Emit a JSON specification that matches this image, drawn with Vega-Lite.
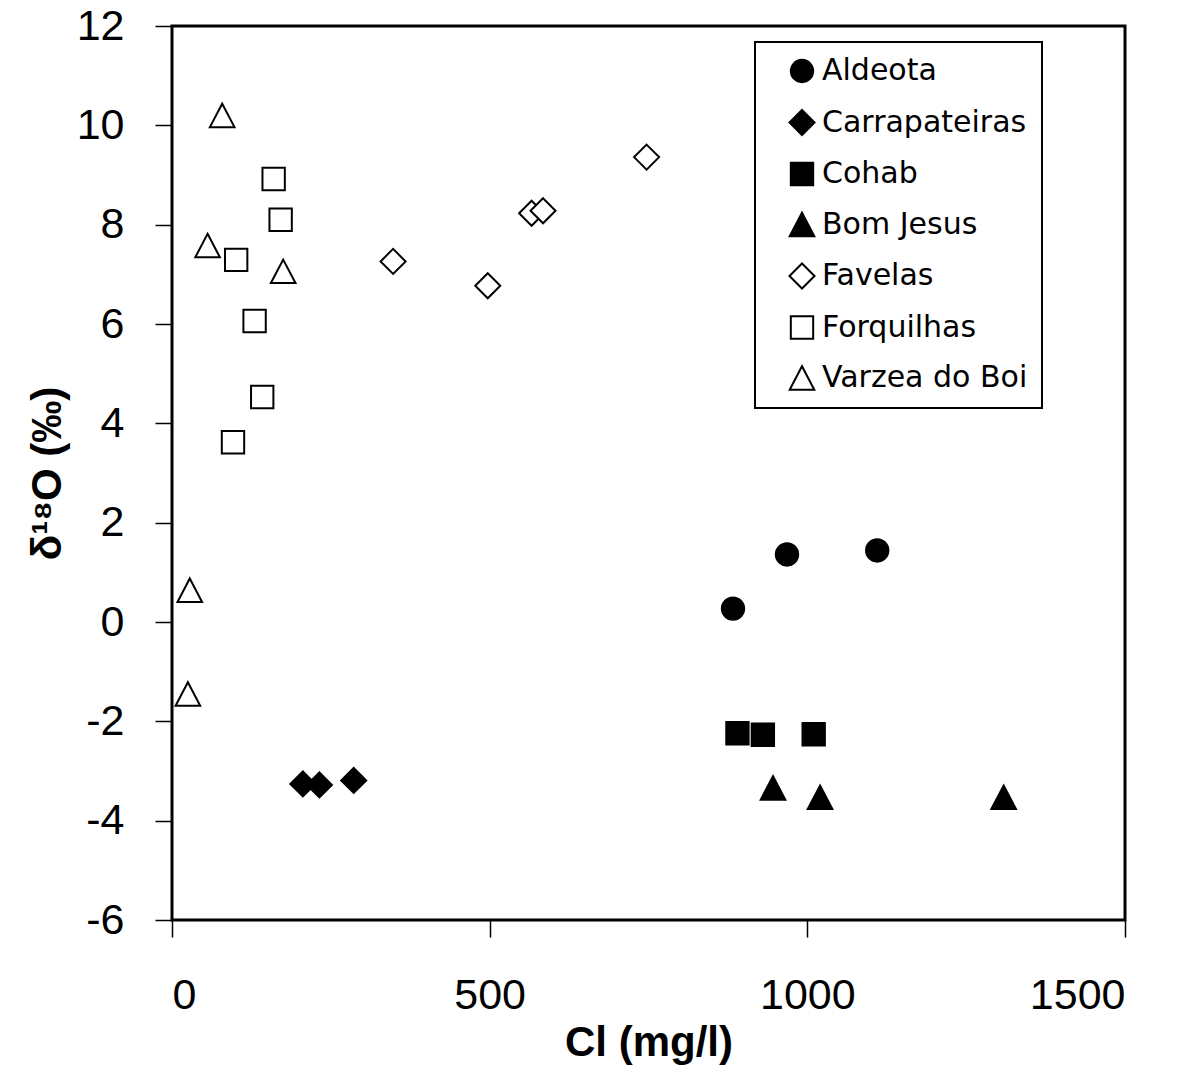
{
  "$schema": "https://vega.github.io/schema/vega-lite/v6.json",
  "autosize": "none",
  "width": 953,
  "height": 894,
  "padding": {"left": 172, "top": 26, "right": 58, "bottom": 154},
  "background": "white",
  "config": {
    "view": {"stroke": "black", "strokeWidth": 3},
    "axis": {
      "domain": false,
      "grid": false,
      "ticks": true,
      "tickColor": "black",
      "tickWidth": 1.5,
      "tickSize": 17,
      "labelFont": "Liberation Sans",
      "labelFontSize": 43,
      "labelColor": "black",
      "titleFont": "Liberation Sans",
      "titleFontWeight": "bold",
      "titleColor": "black"
    },
    "legend": {
      "orient": "none",
      "padding": 14,
      "rowPadding": 18.5,
      "symbolOffset": 18,
      "labelOffset": 5,
      "symbolSize": 500,
      "symbolStrokeColor": "black",
      "symbolStrokeWidth": 2,
      "labelFont": "DejaVu Sans",
      "labelFontSize": 30,
      "labelColor": "black",
      "labelLimit": 400,
      "strokeColor": "black",
      "fillColor": "white"
    }
  },
  "data": {
    "values": [
      {"site": "Aldeota", "cl": 883, "d18o": 0.27},
      {"site": "Aldeota", "cl": 968, "d18o": 1.36},
      {"site": "Aldeota", "cl": 1110, "d18o": 1.44},
      {"site": "Carrapateiras", "cl": 206, "d18o": -3.26},
      {"site": "Carrapateiras", "cl": 232, "d18o": -3.28},
      {"site": "Carrapateiras", "cl": 286, "d18o": -3.19},
      {"site": "Cohab", "cl": 890, "d18o": -2.24},
      {"site": "Cohab", "cl": 930, "d18o": -2.27},
      {"site": "Cohab", "cl": 1010, "d18o": -2.26},
      {"site": "Bom Jesus", "cl": 946, "d18o": -3.34},
      {"site": "Bom Jesus", "cl": 1020, "d18o": -3.53},
      {"site": "Bom Jesus", "cl": 1309, "d18o": -3.53},
      {"site": "Favelas", "cl": 348, "d18o": 7.26},
      {"site": "Favelas", "cl": 497, "d18o": 6.77},
      {"site": "Favelas", "cl": 566, "d18o": 8.23},
      {"site": "Favelas", "cl": 584, "d18o": 8.28},
      {"site": "Favelas", "cl": 747, "d18o": 9.36},
      {"site": "Forquilhas", "cl": 160, "d18o": 8.92},
      {"site": "Forquilhas", "cl": 171, "d18o": 8.10},
      {"site": "Forquilhas", "cl": 101, "d18o": 7.29},
      {"site": "Forquilhas", "cl": 130, "d18o": 6.06},
      {"site": "Forquilhas", "cl": 142, "d18o": 4.53},
      {"site": "Forquilhas", "cl": 96, "d18o": 3.62},
      {"site": "Varzea do Boi", "cl": 79, "d18o": 10.20},
      {"site": "Varzea do Boi", "cl": 56, "d18o": 7.58},
      {"site": "Varzea do Boi", "cl": 175, "d18o": 7.06},
      {"site": "Varzea do Boi", "cl": 28, "d18o": 0.64},
      {"site": "Varzea do Boi", "cl": 25, "d18o": -1.45}
    ]
  },
  "mark": {"type": "point", "filled": true, "stroke": "black", "strokeWidth": 2, "size": 500, "opacity": 1},
  "encoding": {
    "x": {
      "field": "cl",
      "type": "quantitative",
      "scale": {"domain": [0, 1500], "nice": false, "zero": false},
      "axis": {
        "values": [0, 500, 1000, 1500],
        "format": "d",
        "labelPadding": 37,
        "labelBaseline": "top",
        "title": "Cl (mg/l)",
        "titleFontSize": 42,
        "titleX": 476.5,
        "titleY": 122,
        "titleAlign": "center",
        "titleBaseline": "middle"
      }
    },
    "y": {
      "field": "d18o",
      "type": "quantitative",
      "scale": {"domain": [-6, 12], "nice": false, "zero": false},
      "axis": {
        "values": [-6, -4, -2, 0, 2, 4, 6, 8, 10, 12],
        "labelExpr": "datum.value < 0 ? '-' + abs(datum.value) : '' + datum.value",
        "labelPadding": 31,
        "title": "δ¹⁸O   (‰)",
        "titleFontSize": 42,
        "titleAngle": 270,
        "titleX": -125,
        "titleY": 447,
        "titleAlign": "center",
        "titleBaseline": "middle"
      }
    },
    "shape": {
      "field": "site",
      "type": "nominal",
      "scale": {
        "domain": ["Aldeota", "Carrapateiras", "Cohab", "Bom Jesus", "Favelas", "Forquilhas", "Varzea do Boi"],
        "range": [
          "circle",
          "M0,-1.12L1.12,0L0,1.12L-1.12,0Z",
          "square",
          "M0,-1.05L1.1,1.05L-1.1,1.05Z",
          "M0,-1.12L1.12,0L0,1.12L-1.12,0Z",
          "square",
          "M0,-1.05L1.1,1.05L-1.1,1.05Z"
        ]
      },
      "legend": {
        "title": null,
        "legendX": 583,
        "legendY": 16,
        "encoding": {
          "symbols": {"stroke": {"value": "black"}, "strokeWidth": {"value": 2}},
          "legend": {"strokeWidth": {"value": 2}}
        }
      }
    },
    "fill": {
      "field": "site",
      "type": "nominal",
      "scale": {
        "domain": ["Aldeota", "Carrapateiras", "Cohab", "Bom Jesus", "Favelas", "Forquilhas", "Varzea do Boi"],
        "range": ["black", "black", "black", "black", "white", "white", "white"]
      },
      "legend": {
        "title": null,
        "legendX": 583,
        "legendY": 16,
        "encoding": {
          "symbols": {"stroke": {"value": "black"}, "strokeWidth": {"value": 2}},
          "legend": {"strokeWidth": {"value": 2}}
        }
      }
    }
  }
}
